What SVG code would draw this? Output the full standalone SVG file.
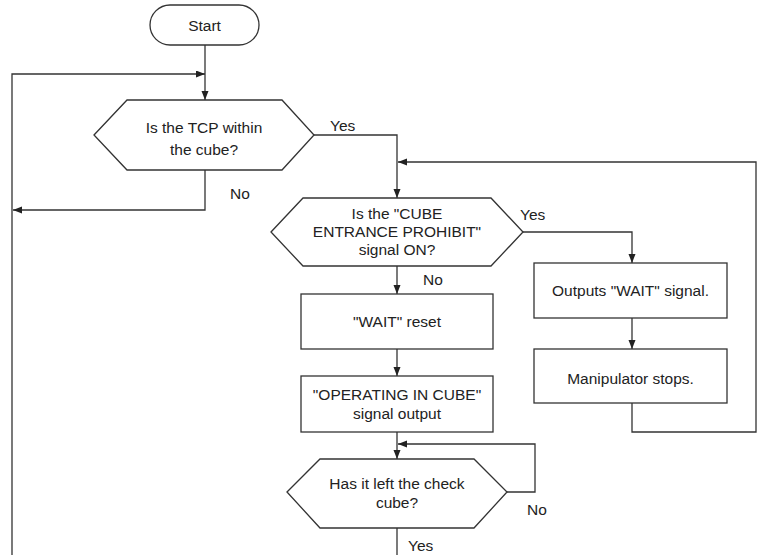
<svg xmlns="http://www.w3.org/2000/svg" width="757" height="555" viewBox="0 0 757 555">
<style>
.shape{fill:#fff;stroke:#333;stroke-width:1.3}
.conn{fill:none;stroke:#333;stroke-width:1.3}
text{font-family:"Liberation Sans",Arial,sans-serif;font-size:15.5px;fill:#222}
.c{text-anchor:middle}
</style>
<defs>
<marker id="arr" markerUnits="userSpaceOnUse" markerWidth="10" markerHeight="8" refX="9" refY="3.5" orient="auto">
<path d="M0,0 L9,3.5 L0,7 z" fill="#222"/>
</marker>
</defs>
<rect width="757" height="555" fill="#fff"/>
<g id="connectors">
<path class="conn" d="M205,45 V100" marker-end="url(#arr)"/>
<path class="conn" d="M12,555 V74 H205" marker-end="url(#arr)"/>
<path class="conn" d="M205,170 V210 H13" marker-end="url(#arr)"/>
<path class="conn" d="M314,135 H397 V198" marker-end="url(#arr)"/>
<path class="conn" d="M523,232 H632 V263" marker-end="url(#arr)"/>
<path class="conn" d="M632,318 V349" marker-end="url(#arr)"/>
<path class="conn" d="M632,403 V432 H756 V162 H398" marker-end="url(#arr)"/>
<path class="conn" d="M397,266 V294" marker-end="url(#arr)"/>
<path class="conn" d="M397,349 V376" marker-end="url(#arr)"/>
<path class="conn" d="M397,432 V459" marker-end="url(#arr)"/>
<path class="conn" d="M507,492 H535 V444 H398" marker-end="url(#arr)"/>
<path class="conn" d="M397,528 V555"/>
<text x="330" y="130.5">Yes</text>
<text x="230" y="198.5">No</text>
<text x="520" y="219.5">Yes</text>
<text x="423" y="284.5">No</text>
<text x="527" y="514.5">No</text>
<text x="408" y="550.5">Yes</text>
</g>
<g id="start">
<rect class="shape" x="150" y="5" width="109" height="40" rx="20"/>
<text class="c" x="204.5" y="30.5">Start</text>
</g>
<g id="d1">
<polygon class="shape" points="94,135 127,100 282,100 314,135 282,170 127,170"/>
<text class="c" x="204" y="133">Is the TCP within</text>
<text class="c" x="204" y="154.5">the cube?</text>
</g>
<g id="d2">
<polygon class="shape" points="271,232 303,198 491,198 523,232 491,266 303,266"/>
<text class="c" x="397" y="218.5">Is the "CUBE</text>
<text class="c" x="397" y="236.5">ENTRANCE PROHIBIT"</text>
<text class="c" x="397" y="254.5">signal ON?</text>
</g>
<g id="wait-out">
<rect class="shape" x="534" y="263" width="193" height="55"/>
<text class="c" x="630.5" y="295.5">Outputs "WAIT" signal.</text>
</g>
<g id="stop">
<rect class="shape" x="534" y="349" width="193" height="54"/>
<text class="c" x="630.5" y="384">Manipulator stops.</text>
</g>
<g id="wait-reset">
<rect class="shape" x="301" y="294" width="192" height="55"/>
<text class="c" x="397" y="326.5">"WAIT" reset</text>
</g>
<g id="oper">
<rect class="shape" x="301" y="376" width="192" height="56"/>
<text class="c" x="397" y="399.5">"OPERATING IN CUBE"</text>
<text class="c" x="397" y="418.5">signal output</text>
</g>
<g id="d3">
<polygon class="shape" points="287,492 320,459 474,459 507,492 474,528 320,528"/>
<text class="c" x="397" y="488.5">Has it left the check</text>
<text class="c" x="397" y="507.5">cube?</text>
</g>
</svg>
